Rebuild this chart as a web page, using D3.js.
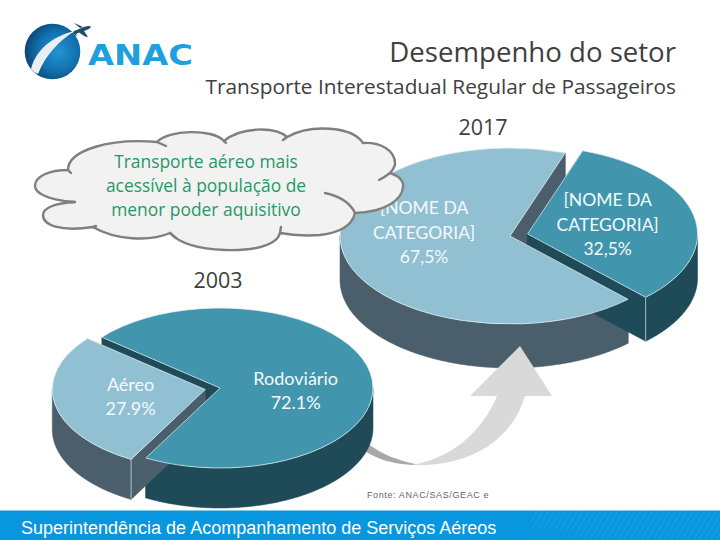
<!DOCTYPE html>
<html><head><meta charset="utf-8">
<script src="https://cdnjs.cloudflare.com/ajax/libs/d3/7.8.5/d3.min.js"></script>
<style>html,body{margin:0;padding:0;background:#fff}svg{display:block}</style></head>
<body><svg id="c" width="720" height="540"></svg>
<script>
const categories2017=["[NOME DA|CATEGORIA]","[NOME DA|CATEGORIA]"];
const values2017=[32.5,67.5];
const valueLabels2017=["32,5%","67,5%"];
const categories2003=["Aéreo","Rodoviário"];
const values2003=[27.9,72.1];
const valueLabels2003=["27.9%","72.1%"];
const titleText="Desempenho do setor";
const subtitleText="Transporte Interestadual Regular de Passageiros";
const cloudLines=["Transporte aéreo mais","acessível à população de","menor poder aquisitivo"];
const footerText="Superintendência de Acompanhamento de Serviços Aéreos";
const sourceText="Fonte: ANAC/SAS/GEAC e";

const svg=d3.select("#c");
const FONT="'Lato','Open Sans',sans-serif";
const deg=Math.PI/180, TAU=2*Math.PI;
const defs=svg.append("defs");

function drawPie(cfg){
  const k=cfg.ry/cfg.rx;
  const arcs=d3.pie().sort(null).startAngle(cfg.start*deg).endAngle(cfg.start*deg+TAU)(cfg.values);
  const arcTop=d3.arc().innerRadius(0).outerRadius(cfg.rx);
  const g=svg.append("g");
  const labels=[];
  const place=i=>{
    const a=arcs[i], mid=(a.startAngle+a.endAngle)/2;
    const ox=cfg.cx+cfg.explode[i]*Math.sin(mid), oy=cfg.cy-cfg.explode[i]*Math.cos(mid)*k;
    return {a,mid,ox,oy,s:cfg.styles[i],px:(r,t)=>ox+r*Math.sin(t),py:(r,t)=>oy-r*Math.cos(t)*k};
  };
  const walls=i=>{
    const {a,px,py,s}=place(i);
    const radial=d3.scaleLinear().domain([0,1]).range([0,cfg.rx]);
    [a.startAngle,a.endAngle].forEach(t=>{
      const face=d3.area().x(u=>px(radial(u),t)).y0(u=>py(radial(u),t)).y1(u=>py(radial(u),t)+cfg.depth);
      g.append("path").attr("d",face([0,1])).attr("fill",s.wall).attr("stroke",s.wall).attr("stroke-width",.5);
    });
    const samples=d3.range(a.startAngle,a.endAngle,0.5*deg).concat([a.endAngle]).filter(t=>Math.cos(t)<=0);
    const wall=d3.area().x(t=>px(cfg.rx,t)).y0(t=>py(cfg.rx,t)).y1(t=>py(cfg.rx,t)+cfg.depth);
    g.append("path").attr("d",wall(samples)).attr("fill",s.wall).attr("stroke",s.wall).attr("stroke-width",.5);
    if(i===cfg.highlight){
      samples.filter((t,j)=>j===0||j===samples.length-1).forEach(t=>{
        if(Math.abs(Math.sin(t))<.97) g.append("line").attr("x1",px(cfg.rx,t)).attr("x2",px(cfg.rx,t))
          .attr("y1",py(cfg.rx,t)).attr("y2",py(cfg.rx,t)+cfg.depth).attr("stroke","#dbe9ee").attr("stroke-width",.7);
      });
    }
  };
  const top=i=>{
    const {a,ox,oy,s}=place(i);
    g.append("path").attr("transform",`translate(${ox},${oy}) scale(1,${k})`)
      .attr("d",arcTop(a)).attr("fill",s.top).attr("stroke","#eaf3f6").attr("stroke-width",.7)
      .attr("vector-effect","non-scaling-stroke");
  };
  walls(cfg.big); walls(cfg.small); top(cfg.small); top(cfg.big);
  cfg.values.forEach((v,i)=>{
    const {mid}=place(i);
    labels.push({lines:cfg.categories[i].split("|").concat(cfg.valueLabels[i]),
      x:cfg.cx+cfg.labelR[i]*Math.sin(mid), y:cfg.cy-cfg.labelR[i]*Math.cos(mid)*k+cfg.labelDy[i]});
  });
  return labels;
}
function drawLabels(labels,size,lh){
  labels.forEach(l=>{
    const n=l.lines.length;
    l.lines.forEach((t,j)=>{
      svg.append("text").attr("x",l.x).attr("y",l.y+(j-(n-1)/2)*lh+size*.35).attr("text-anchor","middle")
        .attr("font-family",FONT).attr("font-size",size).attr("fill","#f4f9fb").text(t);
    });
  });
}

// logo
const grad=defs.append("radialGradient").attr("id","ball").attr("cx",.6).attr("cy",.5).attr("r",.6);
grad.append("stop").attr("offset",0).attr("stop-color","#2296d2");
grad.append("stop").attr("offset",.6).attr("stop-color","#1270ad");
grad.append("stop").attr("offset",1).attr("stop-color","#0b4676");
const logo=svg.append("g");
logo.append("circle").attr("cx",52.5).attr("cy",51.5).attr("r",27.8).attr("fill","url(#ball)");
logo.append("path").attr("d","M31,69 C36,50 52,36 75,31 C60,40 46,54 38,74 Q33,72 31,69Z").attr("fill","#e9eef2");
logo.append("path").attr("d","M74,31 L84,27 Q90,25 91,27 Q90,29 84,31 L88,37 L85,36.5 L79,32.5 L76,34 L77,36 L75,35 L73,33Z M80,28 L74,23 L76.5,24 L83,27Z").attr("fill","#1d4f63");
logo.append("text").attr("x",88).attr("y",64.5).attr("font-family","'DejaVu Sans',sans-serif").attr("font-weight",700)
  .attr("font-size",29).attr("textLength",105).attr("lengthAdjust","spacingAndGlyphs").attr("fill","#1f9fdc").text("ANAC");

// headings
const heading=(t,x,y,s,a)=>svg.append("text").attr("x",x).attr("y",y).attr("text-anchor",a).attr("font-family","'Open Sans',sans-serif").attr("font-size",s).attr("fill","#404040").text(t);
heading(titleText,676,62,27.6,"end");
heading(subtitleText,676,94,20.8,"end");
heading("2017",483,135,21.5,"middle");
heading("2003",218,288,21.5,"middle");

// 2017 pie
const light={top:"#92c0d3",wall:"#4a5f6b"}, dark={top:"#4196ae",wall:"#1f4a57"};
const labels2017=drawPie({cx:510,cy:236,rx:170,ry:88,depth:44,start:19,values:values2017,categories:categories2017,valueLabels:valueLabels2017,
  styles:[dark,light],big:1,small:0,explode:[18,0],labelR:[100,88],labelDy:[0,-13],highlight:0});

// arrow
svg.append("path").attr("d","M412,465 C385,463 372,456 362,449 L368,444 C382,454 398,461 418,464.5Z").attr("fill","#a8a8a8");
svg.append("path").attr("d","M520,346 L552,396 L525,396 C512,440 470,467 412,465 C452,458 482,432 497,396 L470,396Z").attr("fill","#d9d9d9");

// 2003 pie
const labels2003=drawPie({cx:220,cy:388,rx:153,ry:80,depth:40,start:209,values:values2003,categories:categories2003,valueLabels:valueLabels2003,
  styles:[light,dark],big:1,small:0,explode:[15,0],labelR:[91,77],labelDy:[0,10],highlight:0});

drawLabels(labels2017,17.5,24.5);
drawLabels(labels2003,18,24);

// cloud
const cloud=svg.append("g").attr("stroke","#7f7f7f").attr("stroke-width",2.4).attr("stroke-linecap","round");
cloud.append("path").attr("fill","#f2f2f2").attr("d",
 "M68,170 C68,150 110,138 157,142 C168,130 212,128 224,141 C240,127 275,126 287,137 C310,124 352,126 363,143 C380,142 396,150 395,165 C394,168 392,171 390,173 C400,176 404,182 403,187 C402,200 385,212 355,213 C353,222 345,232 320,235 C305,236 290,235 280,233 C277,245 255,251 225,250 C200,249 180,244 170,233 C150,242 115,240 93,227 C60,232 43,225 43,215 C43,208 55,203 75,202 C45,200 35,192 35,186 C35,176 50,170 68,170Z");
cloud.append("g").attr("fill","none").selectAll("path").data([
 "M157,142 L166,146","M224,141 L226,143","M287,137 L283,140","M390,173 Q385,177 379,180",
 "M325,193 Q348,198 355,213","M280,233 L281,227","M170,233 L176,238","M93,227 L96,226","M75,202 L69,202","M68,170 L71,173"
]).join("path").attr("d",d=>d);
cloud.append("g").selectAll("text").data(cloudLines).join("text")
  .attr("x",206).attr("y",(d,i)=>168+i*24).attr("text-anchor","middle")
  .attr("font-family","'Open Sans',sans-serif").attr("font-size",17.4).attr("stroke","none").attr("fill","#1f9a66").text(d=>d);

// source
svg.append("text").attr("x",367).attr("y",498).attr("font-family","'Liberation Sans',sans-serif").attr("font-size",9).attr("letter-spacing",.62).attr("fill","#666").text(sourceText);

// footer
const pat=defs.append("pattern").attr("id","hatch").attr("width",5).attr("height",5).attr("patternUnits","userSpaceOnUse").attr("patternTransform","rotate(30)");
pat.append("line").attr("x1",0).attr("y1",0).attr("x2",0).attr("y2",5).attr("stroke","#fff").attr("stroke-width",1).attr("stroke-opacity",.18);
const fade=defs.append("linearGradient").attr("id","fade").attr("x1",0).attr("x2",1).attr("y1",1).attr("y2",0);
fade.append("stop").attr("offset",0).attr("stop-color","#000");
fade.append("stop").attr("offset",.3).attr("stop-color","#fff");
defs.append("mask").attr("id","hm").append("rect").attr("x",530).attr("y",510).attr("width",190).attr("height",30).attr("fill","url(#fade)");
svg.append("rect").attr("x",0).attr("y",510).attr("width",720).attr("height",30).attr("fill","#0896de");
svg.append("rect").attr("x",0).attr("y",510).attr("width",720).attr("height",1).attr("fill","#7fcdf0");
svg.append("rect").attr("x",530).attr("y",511).attr("width",190).attr("height",29).attr("fill","url(#hatch)").attr("mask","url(#hm)");
svg.append("text").attr("x",21).attr("y",534).attr("font-family","'Liberation Sans',sans-serif").attr("font-size",18).attr("fill","#fff").text(footerText);
</script></body></html>
